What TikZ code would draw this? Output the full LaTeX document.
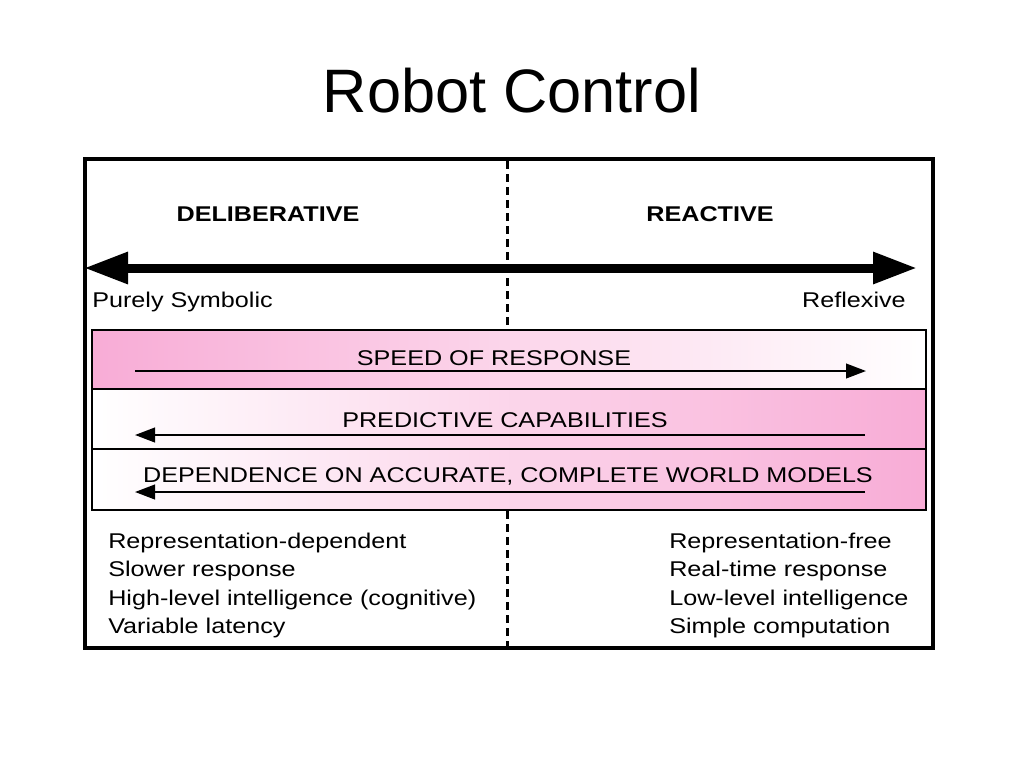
\documentclass[tikz,border=0pt]{standalone}
\usepackage{fontspec}
\setmainfont{Liberation Sans}
\newfontfamily\bitfont[FakeStretch=1.18]{Liberation Sans}
\usetikzlibrary{arrows.meta}
\definecolor{bandpink}{RGB}{248,172,214}

\begin{document}
\begin{tikzpicture}[x=0.75pt,y=-0.75pt,
		txt/.style={font=\bitfont\fontsize{16}{19}\selectfont, inner sep=0pt},
		head/.style={font=\bitfont\bfseries\fontsize{16}{19}\selectfont, inner sep=0pt},
		band/.style={draw, line width=1.6pt},
		thin arrow/.style={line width=1.5pt, -{Triangle[length=15pt,width=11pt]}},
		big arrow/.style={line width=6.75pt, {Triangle[length=33pt,width=22.5pt]}-{Triangle[length=33pt,width=22.5pt]}},
		divider/.style={line width=2.25pt, dash pattern=on 6pt off 3.75pt}]
		\fill[white] (0,0) rectangle (1024,768);
		\useasboundingbox (0,0) rectangle (1024,768);

		\node[font=\fontsize{46}{50}\selectfont, inner sep=0pt, anchor=base] (title) at (512,112) {Robot Control};

		\draw[line width=2.4pt] (85,159) rectangle (933,648);

		\node[head, anchor=base] (delib) at (268,221) {DELIBERATIVE};
		\node[head, anchor=base] (react) at (710,221) {REACTIVE};

		\coordinate (symb end) at (84,268);
		\coordinate (refl end) at (917,268);
		\draw[big arrow] (symb end) -- (refl end);

		\node[txt, anchor=base west] (symb) at (92,307) {Purely Symbolic};
		\node[txt, anchor=base east] (refl) at (906,307) {Reflexive};

		\draw[divider] (507,161) -- (507,329);
		\draw[divider] (507,511) -- (507,646);

		\shade[left color=bandpink, middle color=bandpink!55, right color=white] (92,330) rectangle (926,389);
		\shade[left color=white, middle color=bandpink!55, right color=bandpink] (92,389) rectangle (926,449);
		\shade[left color=white, middle color=bandpink!55, right color=bandpink] (92,449) rectangle (926,510);
		\draw[band] (92,330) rectangle (926,510);
		\draw[band] (92,389) -- (926,389);
		\draw[band] (92,449) -- (926,449);

		\node[txt, anchor=base] (speed) at (494,365) {SPEED OF RESPONSE};
		\node[txt, anchor=base] (pred) at (505,427) {PREDICTIVE CAPABILITIES};
		\node[txt, anchor=base] (dep) at (508,482) {DEPENDENCE ON ACCURATE, COMPLETE WORLD MODELS};

		\coordinate (speed from) at (135,371);
		\coordinate (speed to) at (866,371);
		\coordinate (pred from) at (865,435);
		\coordinate (pred to) at (135,435);
		\coordinate (dep from) at (865,492);
		\coordinate (dep to) at (135,492);
		\path[thin arrow] (speed from) edge (speed to);
		\path[thin arrow] (pred from) edge (pred to);
		\path[thin arrow] (dep from) edge (dep to);

		\foreach \t [count=\i] in {Representation-dependent, Slower response, High-level intelligence (cognitive), Variable latency}
			\node[txt, anchor=base west] (delib \i) at (108,{548+28.5*(\i-1)}) {\t};
		\foreach \t [count=\i] in {Representation-free, Real-time response, Low-level intelligence, Simple computation}
			\node[txt, anchor=base west] (react \i) at (669,{548+28.5*(\i-1)}) {\t};
	\end{tikzpicture}
\end{document}
